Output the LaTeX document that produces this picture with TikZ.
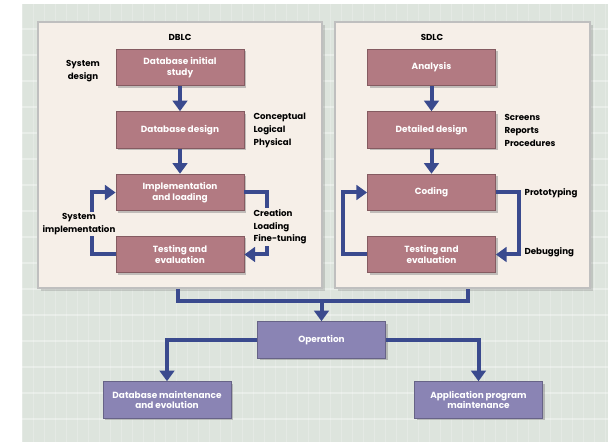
\documentclass[tikz,border=0pt]{standalone}
\usepackage{fontspec}
\setmainfont{Poppins}
\usetikzlibrary{arrows.meta,shadows}
\definecolor{bg}{HTML}{DDE4DD}
\definecolor{panelc}{HTML}{F6EFE8}
\definecolor{rose}{HTML}{B27A82}
\definecolor{lav}{HTML}{8A84B4}
\definecolor{navy}{HTML}{3A4A8E}
\begin{document}
\begin{tikzpicture}[x=0.75pt,y=-0.75pt,
 box/.style={rectangle, fill=rose, draw=rose!75!black, line width=0.6pt, minimum width=96pt, minimum height=27.5pt, text=white, align=center, font=\fontsize{6.7}{8}\selectfont\bfseries, drop shadow={shadow xshift=1.5pt, shadow yshift=-1.5pt, opacity=0.45}},
 pbox/.style={box, fill=lav, draw=lav!75!black},
 lbl/.style={font=\fontsize{6.5}{9.5}\selectfont\bfseries, align=left, inner sep=1pt},
 conn/.style={draw=navy, line width=3pt},
 arr/.style={conn, -{Triangle[width=11pt,length=8pt]}},
 panel/.style={rectangle, fill=panelc, draw=gray!50, line width=0.8pt, minimum height=199.5pt, drop shadow={shadow xshift=2pt, shadow yshift=-2pt, opacity=0.3}},
 ptitle/.style={font=\fontsize{6.5}{8}\selectfont\bfseries}]
\useasboundingbox (0,0) rectangle (608,442);
\fill[white] (0,0) rectangle (608,442);
\fill[bg] (22,4) rectangle (608,442);
\foreach \i in {0,...,53} {\draw[white, opacity=0.22, line width=0.6pt] (22+11*\i,4) -- (22+11*\i,442);}
\foreach \i in {1,...,16} {\draw[white, opacity=0.35, line width=0.8pt] (22,3+26*\i) -- (608,3+26*\i);}
% panels
\node[panel, minimum width=213pt] (dblc) at (180,155) {};
\node[panel, minimum width=191.25pt] (sdlc) at (462.5,155) {};
\node[ptitle] (dt) at (180,37) {DBLC};
\node[ptitle] (st) at (432,37) {SDLC};
% DBLC boxes
\node[box] (d1) at (180,67.5) {Database initial\\study};
\node[box] (d2) at (180,130) {Database design};
\node[box] (d3) at (180,192.5) {Implementation\\and loading};
\node[box] (d4) at (180,254.5) {Testing and\\evaluation};
% SDLC boxes
\node[box] (s1) at (431.5,67.5) {Analysis};
\node[box] (s2) at (431.5,130) {Detailed design};
\node[box] (s3) at (431.5,192.5) {Coding};
\node[box] (s4) at (431.5,254.5) {Testing and\\evaluation};
% bottom boxes
\node[pbox] (op) at (321.5,340) {Operation};
\node[pbox] (dm) at (167,400) {Database maintenance\\and evolution};
\node[pbox] (ap) at (478.5,400) {Application program\\maintenance};
% connectors DBLC
\draw[arr] (d1) -- (d2);
\draw[arr] (d2) -- (d3);
\draw[arr] (d4.west) -- ++(-24,0) |- (d3.west);
\draw[arr] (d3.east) -- ++(23,0) |- (d4.east);
% connectors SDLC
\draw[arr] (s1) -- (s2);
\draw[arr] (s2) -- (s3);
\draw[arr] (s3.east) -- ++(23,0) |- (s4.east);
\draw[arr] (s4.west) -- ++(-24,0) |- (s3.west);
% labels
\node[lbl, align=center] (l1) at (83,71) {System\\design};
\node[lbl, anchor=west] (l2) at (252,130.5) {Conceptual\\Logical\\Physical};
\node[lbl, fill=panelc, align=center] (l3) at (79,224) {System\\implementation};
\node[lbl, anchor=west, fill=panelc] (l4) at (252,227) {Creation\\Loading\\Fine-tuning};
\node[lbl, anchor=west] (l5) at (503,130.5) {Screens\\Reports\\Procedures};
\node[lbl, anchor=west] (l6) at (523,193) {Prototyping};
\node[lbl, anchor=west] (l7) at (523,252) {Debugging};
% bottom connectors
\coordinate (jn) at (321.5,301);
\draw[conn] ([xshift=-1.5pt]dblc.south) |- (jn) -| ([xshift=4pt]sdlc.south);
\draw[arr] (jn) -- (op.north);
\draw[arr] (op.west) -| (dm.north);
\draw[arr] (op.east) -| (ap.north);
\end{tikzpicture}
\end{document}
